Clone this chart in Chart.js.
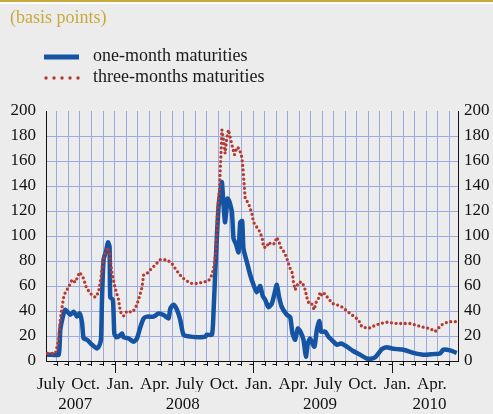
<!DOCTYPE html>
<html>
<head>
<meta charset="utf-8">
<script src="https://cdn.jsdelivr.net/npm/chart.js@4/dist/chart.umd.min.js"></script>
<style>
  html, body { margin: 0; padding: 0; background: #ececec; }
  canvas { display: block; }
</style>
</head>
<body>
<canvas id="myChart" width="493" height="414"></canvas>
<script>
// x = months since 1 July 2007
const oneMonthX = [0.15, 0.61, 1.16, 1.30, 1.59, 1.74, 2.17, 2.45, 2.75, 2.97, 3.18, 3.32, 3.61, 4.05, 4.48, 4.71, 4.83, 4.91,
  5.05, 5.29, 5.43, 5.57, 5.63, 5.86, 5.98, 6.15, 6.41, 6.65, 6.78, 7.22, 7.65, 7.94, 8.23, 8.52, 8.81, 9.38, 9.82,
  10.25, 10.68, 10.83, 11.11, 11.41, 11.69, 11.98, 12.56, 13.42, 13.86, 14.0, 14.44, 14.58, 14.72, 14.87, 15.01,
  15.16, 15.30, 15.44, 15.58, 15.79, 15.93, 16.17, 16.31, 16.54, 16.74, 16.89, 17.06, 17.17, 17.47, 17.75, 18.04,
  18.33, 18.62, 18.84, 19.05, 19.34, 19.63, 19.86, 20.06, 20.26, 20.50, 20.93, 21.22, 21.42, 21.65, 21.88, 22.08,
  22.37, 22.58, 22.75, 22.94, 23.09, 23.32, 23.53, 23.75, 23.90, 24.25, 24.53, 24.97, 25.26, 25.63, 26.13, 26.67,
  27.28, 27.86, 28.32, 28.58, 28.86, 29.16, 29.59, 30.02, 30.45, 31.03, 31.89, 32.76, 33.62, 34.20, 34.49, 35.07, 35.65];
const oneMonth = [5, 5, 5, 25, 38, 41, 37, 39.5, 35.5, 38, 31, 18, 17, 13, 10, 13, 18, 49,
  81, 89, 95, 91, 51, 49, 22, 19, 20, 22, 19, 18, 15.5, 18, 27, 34, 35.5, 35.5, 38,
  36.8, 34, 42, 45, 41, 33, 21, 19.5, 19, 19.5, 21, 21, 40, 70, 100, 123,
  135, 143, 125, 111, 130, 128, 119, 98, 93, 87, 111, 112, 90, 79, 69, 61,
  55, 60, 52, 49, 43, 46, 54, 61, 51, 43, 37, 35, 22, 17, 26, 24,
  17, 3.5, 14, 18, 15, 11.5, 25, 32, 23.5, 23.5, 19.5, 15.5, 13, 14, 11.5, 8,
  5, 2, 2, 3, 6, 9.5, 11, 10, 9.5, 9, 6.5, 5, 5.5, 6, 9, 8.5, 6.5];

const threeMonthX = [0.20, 0.87, 1.16, 1.30, 1.45, 1.59, 1.74, 2.02, 2.32, 2.60, 2.97, 3.27, 3.55, 3.90, 4.33, 4.62, 4.83,
  5.0, 5.2, 5.4, 5.57, 5.78, 6.06, 6.35, 6.50, 6.78, 7.08, 7.51, 7.80, 8.08, 8.23, 8.38, 8.52, 8.81, 9.10, 9.53,
  9.96, 10.54, 10.97, 11.41, 11.84, 12.27, 12.71, 13.14, 13.6, 14.14, 14.44, 14.58, 14.72, 14.87, 14.92, 15.10,
  15.16, 15.22, 15.30, 15.44, 15.58, 15.72, 15.87, 16.02, 16.22, 16.39, 16.60, 16.80, 17.03, 17.12, 17.23, 17.32,
  17.61, 17.90, 18.04, 18.33, 18.62, 18.82, 18.91, 19.2, 19.34, 19.63, 19.86, 20.06, 20.26, 20.44, 20.72, 20.93,
  21.07, 21.22, 21.42, 21.50, 21.65, 21.94, 22.26, 22.52, 22.66, 22.80, 23.03, 23.29, 23.47, 23.67, 23.81, 23.99,
  24.19, 24.53, 24.88, 25.26, 25.75, 26.41, 26.84, 27.13, 27.42, 28.0, 28.58, 29.01, 29.59, 30.45, 31.61, 32.76,
  33.34, 33.77, 34.35, 34.92, 35.65];
const threeMonth = [6, 6, 17, 33, 43, 51, 55, 59, 65, 63, 71, 67, 59, 54, 51, 55, 67,
  81, 86, 91, 86, 70, 58, 49, 39.5, 36, 40, 39, 42, 49, 54, 59, 69, 70, 73, 77,
  81, 81, 78, 72, 67, 64, 62, 62, 63, 64, 69, 74, 83, 103, 121, 138,
  153, 165, 185, 177, 166, 178, 185, 179, 171, 165, 171, 170, 163, 155, 141, 130,
  126, 118, 111, 107, 103, 97, 91, 91, 95, 93, 94, 99, 95, 90, 87, 82,
  78, 74, 70, 63, 57, 63, 63, 57, 51, 47, 47, 41, 47, 50, 55, 52,
  54, 50, 46, 45, 43, 38, 35, 33, 27.5, 26, 28.5, 30, 31, 30, 30, 27,
  26, 23.5, 29, 31.5, 31.5];

const seriesNames = ['one-month maturities', 'three-months maturities'];
const unitLabel = '(basis points)';

// tick labels (months placed mid-month, years under the part of the year shown)
const quarterPos = [0.5, 3.5, 6.5, 9.5, 12.5, 15.5, 18.5, 21.5, 24.5, 27.5, 30.5, 33.5];
const quarterLabels = ['July', 'Oct.', 'Jan.', 'Apr.', 'July', 'Oct.', 'Jan.', 'Apr.', 'July', 'Oct.', 'Jan.', 'Apr.'];
const yearPos = [2.6, 11.9, 23.8, 33.3];
const yearLabels = ['2007', '2008', '2009', '2010'];
const monthLines = [1, 2, 3, 4, 5, 6, 7, 8, 9, 10, 11, 12, 13, 14, 15, 16, 17, 18, 19, 20, 21, 22, 23, 24, 25, 26, 27, 28, 29, 30, 31, 32, 33, 34, 35];
const yearLines = [6, 18, 30];

const X_MIN = 0.06, X_MAX = 35.76;
const gridColor = '#9ba9e2';
const blue = '#1553a3';
const red = '#b63a30';
const gold = '#c8aa3c';
const serif = "'Liberation Serif', 'DejaVu Serif', serif";

function pts(xs, ys) {
    return xs.map((x, i) => ({ x: x, y: ys[i] }));
}

// fond, bandeau, titre et légende
const decorPlugin = {
    id: 'decor',
    beforeDraw(chart) {
        const c = chart.ctx;
        c.save();
        c.fillStyle = '#ececec';
        c.fillRect(0, 0, chart.width, chart.height);
        c.fillStyle = gold;
        c.fillRect(0, 0, chart.width, 2);
        c.fillStyle = '#ffffff';
        c.fillRect(0, 2, chart.width, 2);
        c.restore();
    },
    afterDraw(chart) {
        const c = chart.ctx;
        c.save();
        c.font = '18px ' + serif;
        c.textBaseline = 'middle';
        c.fillStyle = gold;
        c.fillText(unitLabel, 10, 18);

        // legend
        c.fillStyle = '#1a1a1a';
        c.fillText(seriesNames[0], 93, 56);
        c.fillText(seriesNames[1], 93, 77);
        c.strokeStyle = blue;
        c.lineWidth = 5;
        c.beginPath();
        c.moveTo(44, 57);
        c.lineTo(79, 57);
        c.stroke();
        c.fillStyle = red;
        [46, 54, 62, 70, 78].forEach(x => {
            c.beginPath();
            c.arc(x, 78, 1.7, 0, Math.PI * 2);
            c.fill();
        });

        // tick marks under the x axis
        const xs = chart.scales.x;
        const bottom = chart.chartArea.bottom;
        c.strokeStyle = '#111';
        c.lineWidth = 1;
        monthLines.forEach(m => {
            const px = Math.round(xs.getPixelForValue(m)) + 0.5;
            const len = yearLines.includes(m) ? 12 : 5;
            c.beginPath();
            c.moveTo(px, bottom);
            c.lineTo(px, bottom + len);
            c.stroke();
            c.beginPath();
            c.moveTo(px - 4, bottom + 3.5);
            c.lineTo(px, bottom + 3.5);
            c.stroke();
        });
        c.restore();
    }
};

const ctx = document.getElementById('myChart').getContext('2d');
const myChart = new Chart(ctx, {
    type: 'line',
    data: {
        datasets: [{
            label: seriesNames[1],
            data: pts(threeMonthX, threeMonth),
            borderColor: red,
            borderWidth: 3.3,
            borderDash: [0, 4.6],
            borderCapStyle: 'round',
            pointRadius: 0,
            tension: 0,
            order: 0
        }, {
            label: seriesNames[0],
            data: pts(oneMonthX, oneMonth),
            borderColor: blue,
            borderWidth: 4.5,
            borderJoinStyle: 'round',
            pointRadius: 0,
            tension: 0.2,
            order: 1
        }]
    },
    options: {
        responsive: false,
        animation: false,
        devicePixelRatio: 1,
        layout: { padding: { top: 111, left: 0, right: 0, bottom: 0 } },
        plugins: {
            legend: { display: false },
            tooltip: { enabled: false }
        },
        scales: {
            x: {
                type: 'linear',
                position: 'bottom',
                weight: 0,
                min: X_MIN,
                max: X_MAX,
                afterBuildTicks: s => { s.ticks = monthLines.map(v => ({ value: v })); },
                afterFit: s => { s.height = 9; },
                grid: { color: gridColor, lineWidth: 1, drawTicks: false },
                border: { display: true, color: '#111', width: 1 },
                ticks: { display: false }
            },
            xq: {
                type: 'linear',
                position: 'bottom',
                weight: 1,
                min: X_MIN,
                max: X_MAX,
                afterBuildTicks: s => { s.ticks = quarterPos.map(v => ({ value: v })); },
                afterFit: s => { s.height = 22; },
                grid: { display: false, drawTicks: false },
                border: { display: false },
                ticks: {
                    autoSkip: false,
                    maxRotation: 0,
                    padding: 4,
                    color: '#111',
                    font: { family: serif, size: 17 },
                    callback: (v, i) => quarterLabels[i]
                }
            },
            xy: {
                type: 'linear',
                position: 'bottom',
                weight: 2,
                min: X_MIN,
                max: X_MAX,
                afterBuildTicks: s => { s.ticks = yearPos.map(v => ({ value: v })); },
                afterFit: s => { s.height = 22; },
                grid: { display: false, drawTicks: false },
                border: { display: false },
                ticks: {
                    autoSkip: false,
                    maxRotation: 0,
                    padding: 2,
                    color: '#111',
                    font: { family: serif, size: 17 },
                    callback: (v, i) => yearLabels[i]
                }
            },
            y: {
                position: 'left',
                min: 0,
                max: 200,
                afterFit: s => { s.width = 46; },
                grid: {
                    color: c => (c.tick && c.tick.value === 200) ? 'rgba(0,0,0,0)' : gridColor,
                    lineWidth: 1,
                    drawTicks: false
                },
                border: { display: true, color: '#111', width: 1 },
                ticks: {
                    stepSize: 20,
                    padding: 10,
                    color: '#111',
                    font: { family: serif, size: 17 }
                }
            },
            y2: {
                position: 'right',
                min: 0,
                max: 200,
                afterFit: s => { s.width = 35; },
                grid: { display: false, drawTicks: false },
                border: { display: true, color: '#111', width: 1 },
                ticks: {
                    stepSize: 20,
                    padding: 6,
                    color: '#111',
                    font: { family: serif, size: 17 }
                }
            }
        }
    },
    plugins: [decorPlugin]
});
</script>
</body>
</html>
